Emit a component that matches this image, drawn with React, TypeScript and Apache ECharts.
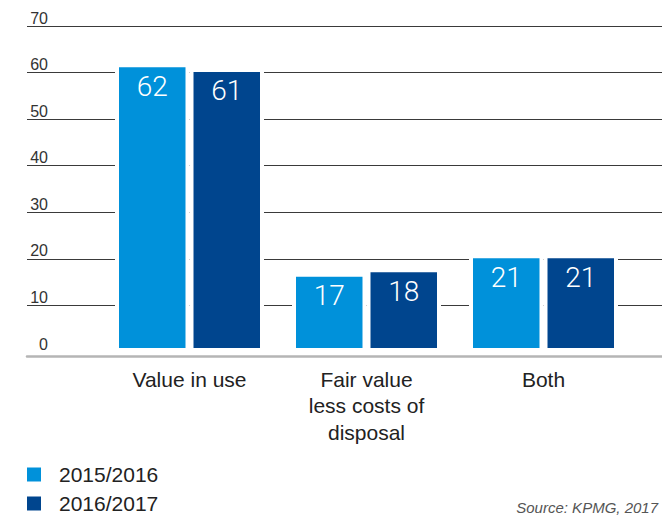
import React, { useEffect, useRef } from "react";
import * as echarts from "echarts";

const categories = ["Value in use", "Fair value\nless costs of\ndisposal", "Both"];
const series2015 = [62, 17, 21];
const series2016 = [61, 18, 21];
const seriesNames = ["2015/2016", "2016/2017"];
const yMin = 0;
const yMax = 70;
const yInterval = 10;
const sourceText = "Source: KPMG, 2017";

const LIGHT = "#0091DA";
const DARK = "#00458E";
const FONT = "'Liberation Sans', Arial, sans-serif";

export default function App() {
  const ref = useRef<HTMLDivElement>(null);
  useEffect(() => {
    if (!ref.current) return;
    const chart = echarts.init(ref.current, null, { renderer: "svg" });
    const lineColors = ["rgba(0,0,0,0)"];
    for (let v = yMin + yInterval; v <= yMax; v += yInterval) lineColors.push("#3a3a3a");
    const barLabel = {
      show: true,
      position: "insideTop",
      distance: 9,
      color: "#ffffff",
      fontFamily: "Roboto, 'Liberation Sans', sans-serif",
      fontSize: 28,
      fontWeight: 300,
    };
    chart.setOption({
      animation: false,
      textStyle: { fontFamily: FONT },
      grid: [
        { left: 27, right: 0, top: 26, bottom: 163 },
        { left: 101, right: 30, top: 26, bottom: 163 },
      ],
      xAxis: [
        {
          gridIndex: 0,
          type: "value",
          min: 0,
          max: 1,
          offset: 4,
          axisLine: { show: true, onZero: false, lineStyle: { color: "#b5b5b5", width: 2.5 } },
          axisTick: { show: false },
          axisLabel: { show: false },
          splitLine: { show: false },
        },
        {
          gridIndex: 1,
          type: "category",
          data: categories,
          axisLine: { show: false },
          axisTick: { show: false },
          axisLabel: {
            margin: 14,
            fontSize: 21,
            lineHeight: 26.5,
            color: "#222222",
            fontFamily: FONT,
            interval: 0,
          },
        },
      ],
      yAxis: [
        {
          gridIndex: 0,
          type: "value",
          min: yMin,
          max: yMax,
          interval: yInterval,
          axisLine: { show: false },
          axisTick: { show: false },
          axisLabel: {
            inside: true,
            align: "right",
            verticalAlign: "bottom",
            margin: 21,
            fontSize: 16,
            color: "#333333",
            fontFamily: FONT,
          },
          splitLine: { show: true, lineStyle: { color: lineColors, width: 1 } },
        },
        {
          gridIndex: 1,
          type: "value",
          min: yMin,
          max: yMax,
          interval: yInterval,
          show: false,
          splitLine: { show: false },
        },
      ],
      legend: {
        orient: "vertical",
        left: 25,
        top: 464,
        height: 80,
        padding: 0,
        icon: "rect",
        itemWidth: 16,
        itemHeight: 16,
        itemGap: 8,
        data: seriesNames,
        textStyle: { fontSize: 21, color: "#222222", fontFamily: FONT, padding: [0, 0, 0, 12] },
      },
      graphic: [
        {
          type: "text",
          right: 4,
          top: 500,
          style: {
            text: sourceText,
            fill: "#555555",
            font: "italic 15px 'Liberation Sans', Arial, sans-serif",
          },
        },
      ],
      series: [
        {
          name: seriesNames[0],
          type: "bar",
          xAxisIndex: 1,
          yAxisIndex: 1,
          data: series2015,
          barWidth: 74.5,
          barGap: "0%",
          itemStyle: { color: LIGHT, borderColor: "#ffffff", borderWidth: 4 },
          label: barLabel,
        },
        {
          name: seriesNames[1],
          type: "bar",
          xAxisIndex: 1,
          yAxisIndex: 1,
          data: series2016,
          barWidth: 74.5,
          barGap: "0%",
          itemStyle: { color: DARK, borderColor: "#ffffff", borderWidth: 4 },
          label: barLabel,
        },
      ],
    });
    return () => chart.dispose();
  }, []);
  return (
    <div
      ref={ref}
      style={{ position: "fixed", left: 0, top: 0, width: 662, height: 515, background: "#ffffff" }}
    />
  );
}
